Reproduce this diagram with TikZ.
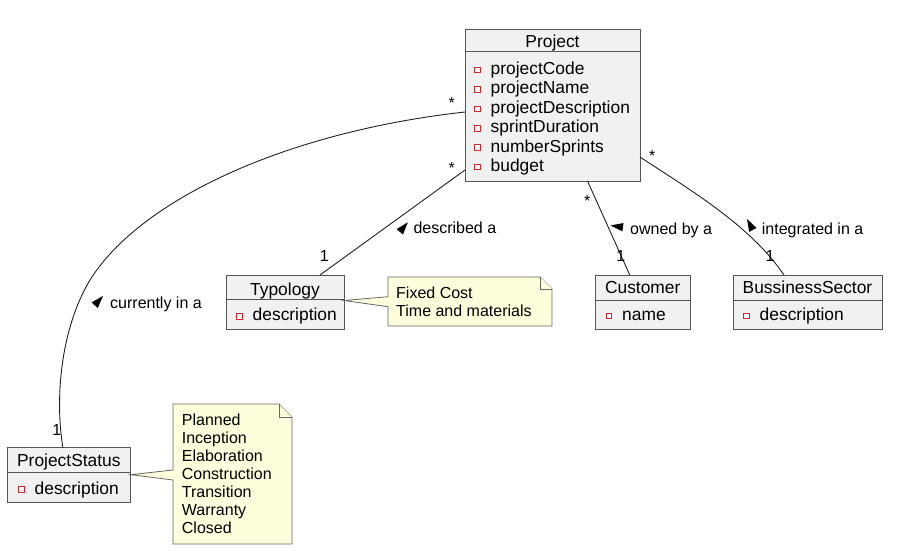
\documentclass[tikz,border=0pt]{standalone}
\usepackage{fontspec}
\setmainfont{Liberation Sans}
\definecolor{clsfill}{HTML}{F1F1F1}
\definecolor{clsdraw}{HTML}{555555}
\definecolor{notefill}{HTML}{FEFEDC}
\definecolor{notedraw}{HTML}{666666}
\definecolor{attred}{HTML}{C82930}
\definecolor{linecol}{HTML}{222222}
\tikzset{
  clsbox/.style={draw=clsdraw, fill=clsfill, line width=0.9pt, inner sep=0pt, outer sep=0pt, anchor=north west},
  clstitle/.style={font=\fontsize{17.4}{20}\selectfont, anchor=base, inner sep=0pt},
  attrtxt/.style={font=\fontsize{17.4}{20}\selectfont, anchor=base west, inner sep=0pt},
  lbltxt/.style={font=\fontsize{16}{18}\selectfont, anchor=base west, inner sep=0pt},
  multtxt/.style={font=\fontsize{16}{18}\selectfont, anchor=base, inner sep=0pt},
  notetxt/.style={font=\fontsize{16}{18}\selectfont, anchor=base west, inner sep=0pt},
  conn/.style={draw=linecol, line width=0.9pt},
  divline/.style={draw=clsdraw, line width=0.9pt},
  notebox/.style={draw=notedraw, fill=notefill, line width=0.8pt, line join=miter},
  attricon/.style={draw=attred, fill=white, line width=0.8pt, minimum size=5.5pt, inner sep=0pt},
  dirtri/.style={fill=black},
}
\newcommand{\umlattr}[4]{% name, icon center x, baseline y, text
  \node[attricon] (#1i) at (#2,#3-4.5) {};
  \node[attrtxt] (#1) at (#2+13,#3) {#4};
}
% direction triangle: center x, center y (pixel frame), angle (math, screen)
\newcommand{\dirtriangle}[3]{%
  \fill[dirtri] ({#1+7.5*cos(#3)},{#2-7.5*sin(#3)})
    -- ({#1+6.5*cos(#3+140)},{#2-6.5*sin(#3+140)})
    -- ({#1+6.5*cos(#3-140)},{#2-6.5*sin(#3-140)}) -- cycle;
}
\begin{document}
\begin{tikzpicture}[x=1pt,y=-1pt]
\fill[white] (0,0) rectangle (903,551);
\useasboundingbox (0,0) rectangle (903,551);

% ---------- Project ----------
\node[clsbox, minimum width=175pt, minimum height=152pt] (project) at (465,29) {};
\draw[divline] (465,51) -- (640,51);
\node[clstitle] (projectT) at (552.5,47.5) {Project};
\umlattr{pa1}{477.5}{74.5}{projectCode}
\umlattr{pa2}{477.5}{93.9}{projectName}
\umlattr{pa3}{477.5}{113.3}{projectDescription}
\umlattr{pa4}{477.5}{132.7}{sprintDuration}
\umlattr{pa5}{477.5}{152.1}{numberSprints}
\umlattr{pa6}{477.5}{171.5}{budget}

% ---------- Typology ----------
\node[clsbox, minimum width=118pt, minimum height=54pt] (typology) at (226,275) {};
\draw[divline] (226,299) -- (344,299);
\node[clstitle] (typologyT) at (285,295) {Typology};
\umlattr{ta1}{239.5}{320.7}{description}

% ---------- Customer ----------
\node[clsbox, minimum width=94.5pt, minimum height=54pt] (customer) at (595.5,275) {};
\draw[divline] (595.5,300) -- (690,300);
\node[clstitle] (customerT) at (642.75,293.5) {Customer};
\umlattr{ca1}{609}{320.5}{name}

% ---------- BussinessSector ----------
\node[clsbox, minimum width=149pt, minimum height=54pt] (bussiness) at (733,275) {};
\draw[divline] (733,300) -- (882,300);
\node[clstitle] (bussinessT) at (807.5,293.5) {BussinessSector};
\umlattr{ba1}{746.5}{320.5}{description}

% ---------- ProjectStatus ----------
\node[clsbox, minimum width=123.7pt, minimum height=54.5pt] (status) at (7,447.5) {};
\draw[divline] (7,472.7) -- (130.7,472.7);
\node[clstitle] (statusT) at (68.85,466.7) {ProjectStatus};
\umlattr{sa1}{21.5}{494}{description}

% ---------- Notes ----------
\draw[notebox] (388,277) -- (540,277) -- (552,289) -- (552,326) -- (388,326) -- (388,306.7)
  -- (344,300.5) -- (388,296.7) -- cycle;
\draw[notebox] (540,277) -- (540,289) -- (552,289);
\node[notetxt] (n1a) at (396,298.3) {Fixed Cost};
\node[notetxt] (n1b) at (396,316) {Time and materials};

\draw[notebox] (173,404) -- (279,404) -- (292,417) -- (292,544) -- (173,544) -- (173,480)
  -- (130.7,474.7) -- (173,470) -- cycle;
\draw[notebox] (279,404) -- (279,417) -- (292,417);
\foreach \t [count=\i] in {Planned,Inception,Elaboration,Construction,Transition,Warranty,Closed}
  \node[notetxt] (n2l\i) at (181.7,{425+(\i-1)*18.05}) {\t};

% ---------- Connectors ----------
\draw[conn] ([yshift=11pt]project.south west) -- ([xshift=35pt]typology.north);
\draw[conn] ([xshift=35pt]project.south) -- ([xshift=-13pt]customer.north);
\draw[conn] ([yshift=24pt]project.south east) .. controls (690,190) and (750,225) .. ([xshift=-23.5pt]bussiness.north);
\draw[conn] ([yshift=69pt]project.south west) .. controls (285,132) and (140,200) .. (90,280)
  .. controls (60,330) and (55,400) .. ([xshift=-6pt]status.north);

% ---------- Multiplicities ----------
\node[multtxt] (m1) at (451.7,108) {*};
\node[multtxt] (m2) at (451.7,173) {*};
\node[multtxt] (m3) at (587.3,206) {*};
\node[multtxt] (m4) at (652.3,161.5) {*};
\node[multtxt] (m5) at (324.3,261.7) {1};
\node[multtxt] (m6) at (620.7,261.7) {1};
\node[multtxt] (m7) at (770,261.7) {1};
\node[multtxt] (m8) at (56.7,435) {1};

% ---------- Association labels ----------
\dirtriangle{403}{228}{50}
\node[lbltxt] (l1) at (413.3,233.3) {described a};
\dirtriangle{618}{226.5}{172}
\node[lbltxt] (l2) at (630,234) {owned by a};
\dirtriangle{750.5}{225.5}{118}
\node[lbltxt] (l3) at (761.7,234) {integrated in a};
\dirtriangle{98}{301.5}{48}
\node[lbltxt] (l4) at (110,308.3) {currently in a};
\end{tikzpicture}
\end{document}
